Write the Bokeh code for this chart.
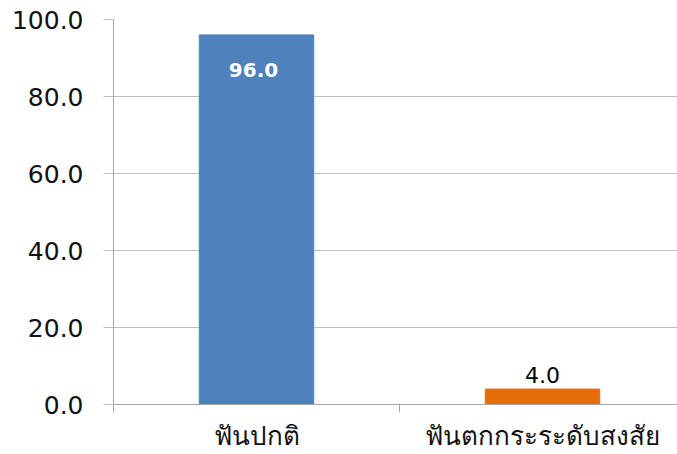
from bokeh.plotting import figure
from bokeh.models import ColumnDataSource, FixedTicker, PrintfTickFormatter, Range1d
from bokeh.core.properties import value
from bokeh.embed import file_html
from bokeh.resources import INLINE

categories = ["ฟันปกติ", "ฟันตกกระระดับสงสัย"]
percentages = [96.0, 4.0]
bar_colors = ["#4f81bd", "#e46c0a"]
y_ticks = [0, 20, 40, 60, 80, 100]

FONT = "Tahoma, DejaVu Sans, sans-serif"

xs = [i + 0.5 for i in range(len(categories))]
src = ColumnDataSource(dict(
    x=xs,
    top=percentages,
    color=bar_colors,
))

p = figure(width=677, height=454, output_backend="svg", toolbar_location=None,
           x_range=Range1d(0, 1.972), y_range=Range1d(0, 100),
           min_border_left=113, min_border_right=0, min_border_top=19,
           min_border_bottom=50)
p.outline_line_color = None
p.background_fill_color = "white"
p.border_fill_color = "white"

p.vbar(x="x", top="top", width=0.4, color="color", source=src)

# value labels: inside the tall bar (white bold), above the short one
inside = ColumnDataSource(dict(x=[xs[0]], y=[percentages[0]], t=[f"{percentages[0]:.1f}"]))
above = ColumnDataSource(dict(x=[xs[1]], y=[percentages[1]], t=[f"{percentages[1]:.1f}"]))
p.text(x="x", y="y", text="t", source=inside, text_align="center", text_baseline="middle",
       x_offset=-3, y_offset=35, text_color="white", text_font_style="bold",
       text_font=value(FONT), text_font_size="20px")
p.text(x="x", y="y", text="t", source=above, text_align="center", text_baseline="bottom",
       y_offset=-6, text_color="black", text_font=value(FONT), text_font_size="22px")

# y axis
yax = p.yaxis[0]
yax.ticker = FixedTicker(ticks=y_ticks)
yax.formatter = PrintfTickFormatter(format="%.1f")
yax.major_tick_out = 10
yax.major_tick_in = 0
yax.minor_tick_line_color = None
yax.axis_line_color = "#a6a6a6"
yax.major_tick_line_color = "#bfbfbf"
yax.major_label_text_font = FONT
yax.major_label_text_font_size = "25px"
yax.major_label_text_color = "#111111"
yax.major_label_standoff = 20

# x axis: labels at category centres, ticks at category boundaries
xax = p.xaxis[0]
xax.ticker = FixedTicker(ticks=xs, minor_ticks=[0, 1, 2])
xax.major_label_overrides = {x: c for x, c in zip(xs, categories)}
xax.major_tick_out = 0
xax.major_tick_in = 0
xax.minor_tick_out = 8
xax.minor_tick_in = 0
xax.minor_tick_line_color = "#a6a6a6"
xax.axis_line_color = "#a6a6a6"
xax.major_label_text_font = FONT
xax.major_label_text_font_size = "26px"
xax.major_label_text_color = "#111111"
xax.major_label_standoff = 8

p.xgrid.grid_line_color = None
p.ygrid.ticker = FixedTicker(ticks=y_ticks)
p.ygrid.grid_line_color = "#bfbfbf"

open("out.html", "w").write(file_html(p, INLINE))
